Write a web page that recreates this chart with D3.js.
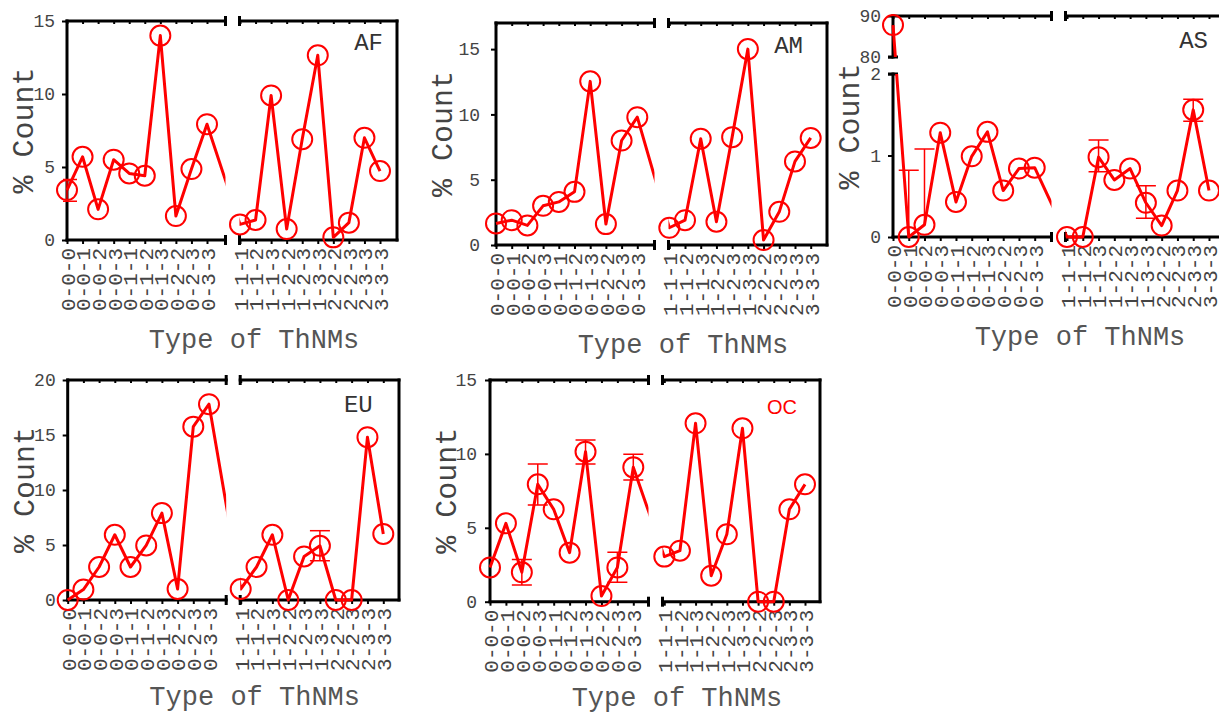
<!DOCTYPE html>
<html>
<head>
<meta charset="utf-8">
<script src="https://cdn.jsdelivr.net/npm/d3@7"></script>
<style>
body { margin: 0; background: #fff; }
text { font-family: "Liberation Mono", "DejaVu Sans Mono", monospace; }
</style>
</head>
<body>
<svg id="chart" width="1219" height="715"></svg>
<script>

// categories (ThNM type), first 10 on the left part of the broken axis
var CATS = ["0-0-0","0-0-1","0-0-2","0-0-3","0-1-1","0-1-2","0-1-3","0-2-2","0-2-3","0-3-3",
            "1-1-1","1-1-2","1-1-3","1-2-2","1-2-3","1-3-3","2-2-2","2-2-3","2-3-3","3-3-3"];

// % count per region
var valsAF = [3.42,5.7,2.1,5.5,4.56,4.4,14.0,1.64,4.86,7.93, 1.07,1.37,9.9,0.75,6.9,12.65,0.18,1.19,7.0,4.72];
var valsAM = [1.65,1.9,1.5,3.0,3.3,4.07,12.53,1.6,8.0,9.79, 1.32,1.9,8.14,1.78,8.26,15.0,0.38,2.54,6.4,8.2];
var valsAS = [87.8,0,0.15,1.28,0.43,0.99,1.29,0.57,0.84,0.85, 0,0,0.98,0.7,0.84,0.42,0.14,0.57,1.56,0.57];
var valsEU = [0,0.95,3.0,5.93,3.0,4.96,7.9,1.0,15.76,17.8, 1.0,3.0,5.93,0,3.96,4.93,0,0,14.8,6.0];
var valsOC = [2.32,5.3,1.99,7.94,6.25,3.32,10.15,0.38,2.32,9.09, 3.05,3.45,12.07,1.76,4.56,11.73,0,0,6.25,7.94];

// error bars: [index, low, high]  (low null -> only the upper arm is visible)
var errAF = [[0,2.65,4.15]];
var errAM = [];
var errAS = [[1,null,0.82],[2,null,1.08],[12,0.8,1.19],[15,0.23,0.63],[18,1.42,1.69]];
var errEU = [[15,3.57,6.3]];
var errOC = [[2,1.13,2.86],[3,6.54,9.32],[6,9.32,10.94],[8,1.31,3.34],[9,8.23,9.97]];

// y axes
var yDomAF = [0,15], yTicksAF = [0,5,10,15];
var yDomAM = [0,17], yTicksAM = [0,5,10,15];
var yDomAS = [0,2,80,90], yTicksAS = [0,1,2,80,90];
var yDomEU = [0,20], yTicksEU = [0,5,10,15,20];
var yDomOC = [0,15], yTicksOC = [0,5,10,15];

var SEG_L = 158.5;   // end of left part of x axis
var SEG_R = 172.5;   // start of right part

var panels = [
	{name:"AF", vals:valsAF, errs:errAF, yDom:yDomAF, yTicks:yTicksAF,
	 left:67, top:21, w:330, h:219, px:[0,140,173,313], lx:316, ly:29, yPad:7, yTitle:-34, tDy:108},
	{name:"AM", vals:valsAM, errs:errAM, yDom:yDomAM, yTicks:yTicksAM,
	 left:496, top:23, w:331, h:222, px:[0,141.3,173.3,314.7], lx:307, ly:30, yPad:11, yTitle:-44, tDy:108},
	{name:"AS", vals:valsAS, errs:errAS, yDom:yDomAS, yTicks:yTicksAS,
	 left:893, top:16, w:331, h:221, px:[0,141.7,174,316], lx:315, ly:32, yPad:7, yTitle:-34, tDy:108,
	 yRange:[221,58,41,0], ySegs:[[0,41],[58,221]]},
	{name:"EU", vals:valsEU, errs:errEU, yDom:yDomEU, yTicks:yTicksEU,
	 left:67.7, top:380, w:331.3, h:220, px:[0,141.3,173,315.6], lx:305, ly:32, yPad:7, yTitle:-34, tDy:105},
	{name:"OC", vals:valsOC, errs:errOC, yDom:yDomOC, yTicks:yTicksOC,
	 left:490, top:380, w:330, h:221.7, px:[0,143.3,174.3,315], lx:307, ly:34, yPad:8, yTitle:-34, tDy:104,
	 labelStyle:"oc"}
];

var RED = "#ff0000";
var svg = d3.select("#chart");

panels.forEach(function(p){
	var g = svg.append("g").attr("transform", "translate(" + p.left + "," + p.top + ")");

	var x = d3.scaleLinear().domain([0, 9, 10, 19]).range(p.px);
	var y = d3.scaleLinear().domain(p.yDom).range(p.yRange || [p.h, 0]);
	var xSegs = [[0, SEG_L], [SEG_R, p.w]];
	var ySegs = p.ySegs || [[0, p.h]];

	//CLIP THE LINE TO THE AXIS PARTS (NOT THE GAPS)
	var clipId = "clip-" + p.name;
	var clip = g.append("clipPath").attr("id", clipId);
	xSegs.forEach(function(xs, xi){
		ySegs.forEach(function(ys, yi){
			var x0 = xs[0] - (xi == 0 ? 4 : 0), x1 = xs[1] + (xi == 1 ? 4 : 0);
			var y0 = ys[0] - (yi == 0 ? 4 : 0), y1 = ys[1] + (yi == ySegs.length - 1 ? 4 : 0);
			clip.append("rect").attr("x", x0).attr("y", y0).attr("width", x1 - x0).attr("height", y1 - y0);
		});
	});

	//AXES
	var bottom = g.append("g")
		.attr("transform", "translate(0," + p.h + ")")
		.call(d3.axisBottom(x).tickValues(d3.range(CATS.length)).tickFormat(function(i){ return CATS[i]; }).tickSize(4));
	bottom.select(".domain").remove();
	bottom.selectAll("line").attr("stroke", "#000").attr("stroke-width", 2);
	bottom.selectAll("text")
		.attr("transform", "rotate(-90)")
		.attr("x", -8).attr("y", 0).attr("dy", "0.35em")
		.attr("text-anchor", "end")
		.style("font-size", "21px")
		.attr("fill", "#444");

	var top = g.append("g")
		.call(d3.axisTop(x).tickValues(d3.range(CATS.length)).tickFormat("").tickSize(-3));
	top.select(".domain").remove();
	top.selectAll("line").attr("stroke", "#000").attr("stroke-width", 2);

	var left = g.append("g")
		.call(d3.axisLeft(y).tickValues(p.yTicks).tickSize(5).tickPadding(p.yPad));
	left.select(".domain").remove();
	left.selectAll("line").attr("stroke", "#000").attr("stroke-width", 2);
	left.selectAll("text").style("font-size", "18px").attr("fill", "#444");

	//FRAME WITH BREAKS
	var frame = g.append("g").attr("stroke", "#000").attr("stroke-width", 3).attr("fill", "none");
	xSegs.forEach(function(xs){
		[0, p.h].forEach(function(yy){
			frame.append("line").attr("x1", xs[0]).attr("x2", xs[1]).attr("y1", yy).attr("y2", yy).attr("stroke-linecap", "square");
		});
	});
	[0, p.h].forEach(function(yy){
		[SEG_L, SEG_R].forEach(function(xx){
			frame.append("line").attr("x1", xx).attr("x2", xx).attr("y1", yy - 5).attr("y2", yy + 5);
		});
	});
	ySegs.forEach(function(ys){
		frame.append("line").attr("x1", 0).attr("x2", 0).attr("y1", ys[0]).attr("y2", ys[1]).attr("stroke-linecap", "square");
	});
	if (ySegs.length > 1) {
		[ySegs[0][1], ySegs[1][0]].forEach(function(yy){
			frame.append("line").attr("x1", -5).attr("x2", 5).attr("y1", yy).attr("y2", yy);
		});
	}
	frame.append("line").attr("x1", p.w).attr("x2", p.w).attr("y1", 0).attr("y2", p.h).attr("stroke-linecap", "square");

	//ERROR BARS
	var eb = g.append("g").attr("stroke", RED).attr("stroke-width", 1.5).attr("clip-path", "url(#" + clipId + ")");
	p.errs.forEach(function(e){
		var cx = x(e[0]);
		var lo = e[1] == null ? p.vals[e[0]] : e[1];
		eb.append("line").attr("x1", cx).attr("x2", cx).attr("y1", y(lo)).attr("y2", y(e[2]));
		eb.append("line").attr("x1", cx - 10).attr("x2", cx + 10).attr("y1", y(e[2])).attr("y2", y(e[2]));
		if (e[1] != null) eb.append("line").attr("x1", cx - 10).attr("x2", cx + 10).attr("y1", y(e[1])).attr("y2", y(e[1]));
	});

	//LINE
	g.append("path")
		.datum(p.vals)
		.attr("clip-path", "url(#" + clipId + ")")
		.attr("d", d3.line().x(function(d, i){ return x(i); }).y(function(d){ return y(d); }))
		.attr("fill", "none")
		.attr("stroke", RED)
		.attr("stroke-width", 3)
		.attr("stroke-linejoin", "round");

	//MARKERS
	g.selectAll("circle.pt")
		.data(p.vals)
		.join("circle")
		.attr("class", "pt")
		.attr("cx", function(d, i){ return x(i); })
		.attr("cy", function(d){ return y(d); })
		.attr("r", 10)
		.attr("fill", "none")
		.attr("stroke", RED)
		.attr("stroke-width", 2);

	//TITLES
	g.append("text")
		.attr("transform", "translate(" + p.yTitle + "," + (p.h / 2) + ") rotate(-90)")
		.attr("text-anchor", "middle")
		.style("font-size", "30px")
		.attr("fill", "#444")
		.text("% Count");

	g.append("text")
		.attr("x", 187).attr("y", p.h + p.tDy)
		.attr("text-anchor", "middle")
		.style("font-size", "27px")
		.attr("fill", "#555")
		.text("Type of ThNMs");

	var lab = g.append("text")
		.attr("x", p.lx).attr("y", p.ly)
		.attr("text-anchor", "end")
		.text(p.name);
	if (p.labelStyle == "oc") {
		lab.style("font-family", "'Liberation Sans', Arial, sans-serif").style("font-size", "20px").attr("fill", RED);
	} else {
		lab.style("font-size", "24px").attr("fill", "#333");
	}
});

</script>
</body>
</html>
